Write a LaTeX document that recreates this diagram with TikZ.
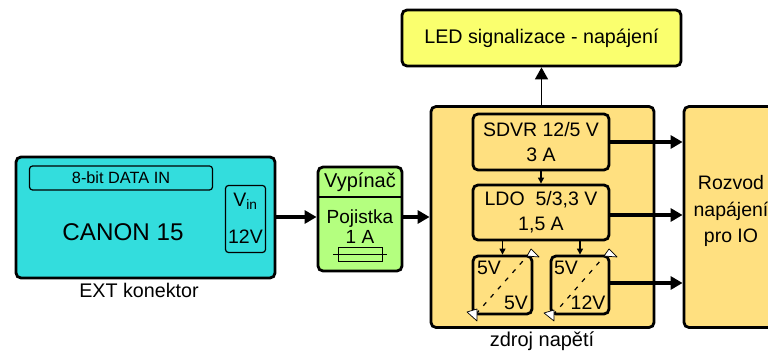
\documentclass[tikz,border=0pt]{standalone}
\usepackage{fontspec}
\setmainfont{Liberation Sans}
\usetikzlibrary{arrows.meta,calc}
\definecolor{tealc}{HTML}{33DDDD}
\definecolor{greenc}{HTML}{B4FF7F}
\definecolor{orangec}{HTML}{FFE080}
\definecolor{yellowc}{HTML}{FAFF6E}
\tikzset{
  x=1pt,y=-1pt,
  box/.style={draw=black,line width=2.8pt,rounded corners=5pt,inner sep=0pt,align=center,text=black},
  thinbox/.style={draw=black,line width=1.2pt,rounded corners=3pt,inner sep=0pt,align=center},
  txt/.style={inner sep=0pt,align=center,text=black},
  bigarrow/.style={line width=3.2pt,-{Triangle[length=12pt,width=13pt]}},
  midarrow/.style={line width=1.5pt,-{Triangle[length=12pt,width=13pt]}},
  smallarrow/.style={line width=1.2pt,-{Triangle[length=6pt,width=6pt]}},
  convline/.style={line width=1.2pt,dash pattern=on 4.5pt off 6.5pt},
  convtip/.style={fill=white,draw=black,line width=.7pt,line join=round},
}
\begin{document}
\begin{tikzpicture}
\useasboundingbox (0,0) rectangle (768,352);
\begin{scope}
\clip (0,0) rectangle (768,352);
% power supply and distribution
\node[box,fill=orangec,minimum width=223pt,minimum height=221pt] (zdroj) at (542.5,217) {};
\node[box,fill=orangec,minimum width=94pt,minimum height=221pt] (rozvod) at (731,217) {};
\node[txt,font=\fontsize{19.5}{26.5}\selectfont] (rozvodt) at (731,211) {Rozvod\\napájení\\pro IO};
\node[box,fill=yellowc,minimum width=279pt,minimum height=56pt,font=\fontsize{19.7}{22}\selectfont] (led) at (541.5,38) {LED signalizace - napájení};
\node[box,fill=orangec,minimum width=136pt,minimum height=56pt,font=\fontsize{19.5}{25}\selectfont] (sdvr) at (541,142) {SDVR 12/5 V\\3 A};
\node[box,fill=orangec,minimum width=136pt,minimum height=55pt,font=\fontsize{19.5}{25}\selectfont] (ldo) at (541,212.5) {LDO\ \ 5/3,3 V\\1,5 A};
\node[box,fill=orangec,minimum width=59pt,minimum height=58pt] (conva) at (502.5,285) {};
\node[box,fill=orangec,minimum width=58pt,minimum height=58pt] (convb) at (580,285) {};
\node[txt,font=\fontsize{19.5}{22}\selectfont] (a5v) at (489,268) {5V};
\node[txt,font=\fontsize{19.5}{22}\selectfont] (b5v) at (516,303) {5V};
\node[txt,font=\fontsize{19.5}{22}\selectfont] (c5v) at (566,268) {5V};
\node[txt,font=\fontsize{19.5}{22}\selectfont] (d12v) at (588,303) {12V};
\coordinate (al) at (476,314);
\coordinate (ar) at (530,253);
\coordinate (bl) at (553,315);
\coordinate (br) at (608,252);
\draw[convline] (al) -- (ar);
\draw[convline] (bl) -- (br);
\draw[convtip] (467,312) -- (477,309) -- (477,321) -- cycle;
\draw[convtip] (527,256) -- (531,249) -- (539,257) -- cycle;
\draw[convtip] (544,313) -- (554,310) -- (554,321) -- cycle;
\draw[convtip] (604,256) -- (609,249) -- (617,257) -- cycle;
\node[txt,font=\fontsize{20}{22}\selectfont] (zlabel) at (542,341) {zdroj napětí};
% EXT
\node[box,fill=tealc,minimum width=259pt,minimum height=121pt] (canon) at (145.5,217.5) {};
\node[thinbox,minimum width=183pt,minimum height=24pt,font=\fontsize{16.3}{18}\selectfont] (data) at (121,178) {8-bit DATA IN};
\node[thinbox,minimum width=40pt,minimum height=67pt] (vin) at (245.5,219) {};
\node[txt,font=\fontsize{19.5}{22}\selectfont] (vint) at (245.5,201) {V\textsubscript{in}};
\node[txt,font=\fontsize{19.5}{22}\selectfont] (v12) at (245.5,237) {12V};
\node[txt,font=\fontsize{24.2}{28}\selectfont] (cname) at (123,232.5) {CANON 15};
\node[txt,font=\fontsize{19.7}{22}\selectfont] (extl) at (139,290) {EXT konektor};
% switch and fuse
\node[box,fill=greenc,minimum width=84pt,minimum height=104pt] (fuse) at (360,219) {};
\coordinate (dl) at (318,197);
\coordinate (dr) at (402,197);
\draw[line width=1.6pt] (dl) -- (dr);
\node[txt,font=\fontsize{20}{22}\selectfont] (vyp) at (360,182) {Vypínač};
\node[txt,font=\fontsize{19}{20}\selectfont] (poj) at (360,227) {Pojistka\\1 A};
\node[draw=black,line width=1pt,inner sep=0pt,minimum width=44pt,minimum height=14pt] (fs) at (360,255) {};
\coordinate (fl) at (333,255);
\coordinate (fr) at (387,255);
\draw[line width=1pt] (fl) -- (fr);
% connectors
\draw[bigarrow] (canon.east |- 275,217) -- (fuse.west |- 318,217);
\draw[bigarrow] (fuse.east |- 402,217) -- (zdroj.west |- 431,217);
\draw[midarrow] (zdroj.north -| led.south) -- (led.south);
\draw[bigarrow] (sdvr.east) -- (sdvr.east -| rozvod.west);
\draw[bigarrow] ($(ldo.east)+(0,2.5)$) -- ($(ldo.east -| rozvod.west)+(0,2.5)$);
\draw[bigarrow] ($(convb.east)+(0,-2)$) -- ($(convb.east -| rozvod.west)+(0,-2)$);
\draw[smallarrow] (sdvr.south) -- (ldo.north);
\draw[smallarrow] (ldo.south -| conva.north) -- (conva.north);
\draw[smallarrow] (ldo.south -| convb.north) -- (convb.north);
\end{scope}
\end{tikzpicture}
\end{document}
